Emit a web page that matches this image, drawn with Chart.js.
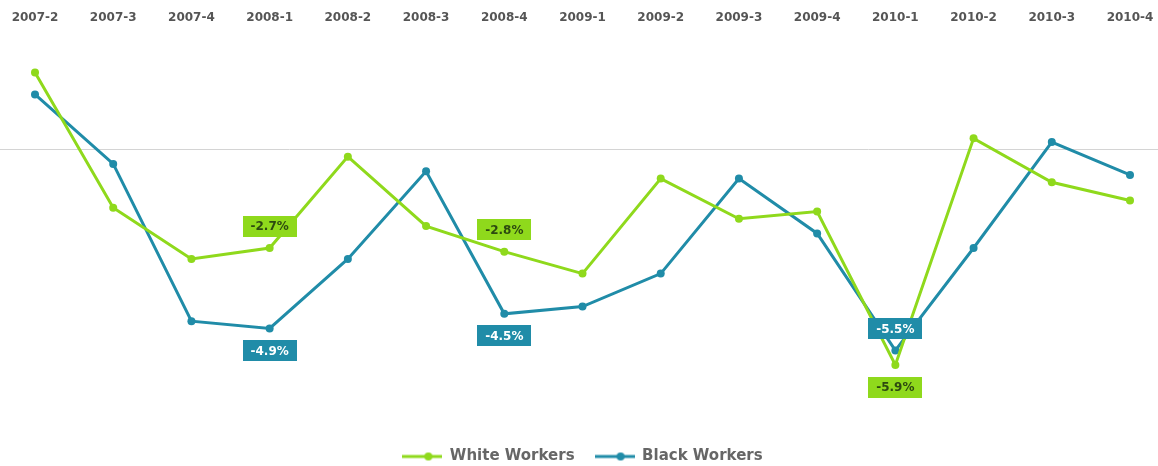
<!DOCTYPE html>
<html>
<head>
<meta charset="utf-8">
<script src="https://cdn.jsdelivr.net/npm/chart.js@4/dist/chart.umd.min.js"></script>
<style>
  html, body { margin: 0; padding: 0; background: #fff; }
  #wrap { width: 1158px; height: 466px; }
</style>
</head>
<body>
<div id="wrap"><canvas id="workers"></canvas></div>
<script>
const quarters = ["2007-2", "2007-3", "2007-4", "2008-1", "2008-2", "2008-3", "2008-4", "2009-1",
  "2009-2", "2009-3", "2009-4", "2010-1", "2010-2", "2010-3", "2010-4"];
const whiteWorkers = [2.1, -1.6, -3.0, -2.7, -0.2, -2.1, -2.8, -3.4, -0.8, -1.9, -1.7, -5.9, 0.3, -0.9, -1.4];
const blackWorkers = [1.5, -0.4, -4.7, -4.9, -3.0, -0.6, -4.5, -4.3, -3.4, -0.8, -2.3, -5.5, -2.7, 0.2, -0.7];
// quarters whose value gets a tag
const whiteTagged = [3, 6, 11];
const blackTagged = [3, 6, 11];

const GREEN = "#8fd91c";
const BLUE = "#208ca8";
const FONT = "'DejaVu Sans', Arial, sans-serif";

// legend marker: short line with a dot on it
function legendMarker(color) {
  const c = document.createElement("canvas");
  c.width = 40;
  c.height = 10;
  const g = c.getContext("2d");
  g.strokeStyle = color;
  g.lineWidth = 3;
  g.beginPath();
  g.moveTo(0, 5);
  g.lineTo(40, 5);
  g.stroke();
  g.fillStyle = color;
  g.beginPath();
  g.arc(26, 5, 4, 0, Math.PI * 2);
  g.fill();
  return c;
}

const zeroLine = {
  id: "zeroLine",
  beforeDatasetsDraw(chart) {
    const ctx = chart.ctx;
    const y = Math.round(chart.scales.y.getPixelForValue(0)) + 0.5;
    ctx.save();
    ctx.strokeStyle = "#d4d4d4";
    ctx.lineWidth = 1;
    ctx.beginPath();
    ctx.moveTo(0, y);
    ctx.lineTo(chart.width, y);
    ctx.stroke();
    ctx.restore();
  }
};

const valueTags = {
  id: "valueTags",
  afterDatasetsDraw(chart, args, opts) {
    const ctx = chart.ctx;
    ctx.save();
    ctx.font = "bold 12px " + FONT;
    ctx.textAlign = "center";
    ctx.textBaseline = "middle";
    opts.tags.forEach(t => {
      const ds = chart.data.datasets[t.dataset];
      const pt = chart.getDatasetMeta(t.dataset).data[t.index];
      const text = ds.data[t.index].toFixed(1) + "%";
      const w = ctx.measureText(text).width + 16;
      const h = 21;
      const cy = pt.y + (t.side === "up" ? -22 : 22);
      ctx.fillStyle = ds.borderColor;
      ctx.fillRect(Math.round(pt.x - w / 2), Math.round(cy - h / 2), Math.round(w), h);
      ctx.fillStyle = t.dataset === 0 ? "#2d4a10" : "#ffffff";
      ctx.fillText(text, pt.x, cy + 1);
    });
    ctx.restore();
  }
};

const tags = [];
whiteTagged.forEach((i, k) => tags.push({ dataset: 0, index: i, side: k < 2 ? "up" : "down" }));
blackTagged.forEach((i, k) => tags.push({ dataset: 1, index: i, side: k < 2 ? "down" : "up" }));

new Chart(document.getElementById("workers"), {
  type: "line",
  data: {
    labels: quarters,
    datasets: [
      {
        label: "White Workers",
        data: whiteWorkers,
        borderColor: GREEN,
        backgroundColor: GREEN,
        pointBackgroundColor: GREEN,
        borderWidth: 3,
        pointRadius: 4,
        pointBorderWidth: 0,
        tension: 0
      },
      {
        label: "Black Workers",
        data: blackWorkers,
        borderColor: BLUE,
        backgroundColor: BLUE,
        pointBackgroundColor: BLUE,
        borderWidth: 3,
        pointRadius: 4,
        pointBorderWidth: 0,
        tension: 0
      }
    ]
  },
  options: {
    responsive: true,
    maintainAspectRatio: false,
    animation: false,
    layout: { padding: { left: 35, right: 28, top: 7, bottom: -8 } },
    scales: {
      x: {
        position: "top",
        offset: false,
        grid: { display: false, drawTicks: false },
        border: { display: false },
        ticks: {
          color: "#555",
          padding: 4,
          maxRotation: 0,
          autoSkip: false,
          font: { family: FONT, size: 12, weight: "bold" }
        }
      },
      y: {
        display: false,
        min: -7.65,
        max: 3.28
      }
    },
    plugins: {
      tooltip: { enabled: false },
      valueTags: { tags: tags },
      legend: {
        position: "bottom",
        labels: {
          usePointStyle: true,
          pointStyleWidth: 40,
          padding: 20,
          color: "#666",
          font: { family: FONT, size: 15, weight: "bold" },
          generateLabels(chart) {
            return Chart.defaults.plugins.legend.labels.generateLabels(chart).map(l => {
              l.pointStyle = legendMarker(chart.data.datasets[l.datasetIndex].borderColor);
              return l;
            });
          }
        }
      }
    }
  },
  plugins: [zeroLine, valueTags]
});
</script>
</body>
</html>
